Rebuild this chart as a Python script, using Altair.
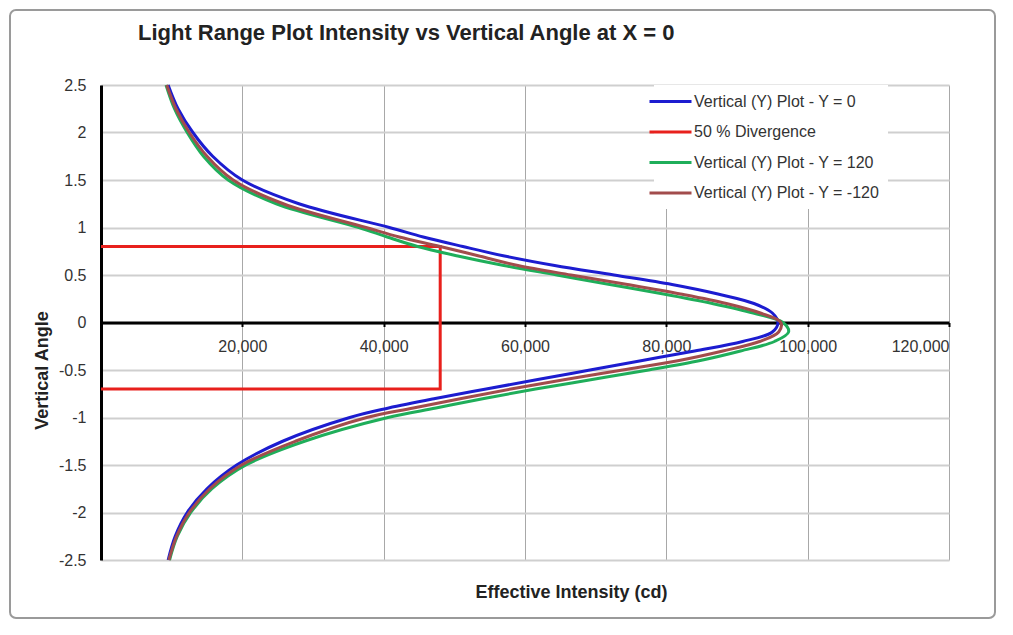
import altair as alt
import pandas as pd

# ---- data ----
angles = [2.5, 2.25, 2.0, 1.75, 1.5, 1.25, 1.0, 0.9, 0.8, 0.7, 0.6, 0.5, 0.4, 0.3, 0.2, 0.1, 0.0,
          -0.1, -0.2, -0.3, -0.4, -0.5, -0.6, -0.7, -0.8, -0.9, -1.0, -1.25, -1.5, -1.75, -2.0, -2.25, -2.5]

blue_y0 = [9500, 10900, 13000, 15800, 20000, 28000, 40800, 45600, 51200, 57100, 64200, 72600, 80800, 87300, 92400, 95000, 95800,
           95000, 90800, 84000, 76600, 69200, 61800, 54500, 47300, 40700, 35200, 25700, 19200, 15000, 12200, 10500, 9500]

green_y120 = [9200, 10400, 12200, 14500, 18000, 24800, 36500, 40500, 44800, 50500, 57000, 64500, 72000, 79600, 86500, 92300, 96500,
              97300, 95300, 90500, 84800, 77500, 69500, 61500, 54200, 47400, 40600, 28800, 20500, 15700, 12700, 10800, 9700]

brown_ym120 = [9300, 10600, 12500, 15000, 18700, 25800, 37500, 42200, 48000, 53500, 59000, 66500, 74500, 82000, 88500, 93300, 96200,
               95900, 93200, 88000, 81800, 73800, 65700, 58000, 51000, 44200, 37600, 27500, 19900, 15400, 12500, 10700, 9600]

div_x = [0, 48000, 48000, 0]
div_y = [0.8, 0.8, -0.7, -0.7]

series_names = ["Vertical (Y) Plot - Y = 0", "50 % Divergence",
                "Vertical (Y) Plot - Y = 120", "Vertical (Y) Plot - Y = -120"]
series_colors = ["#1c1cd0", "#e8201c", "#1fae5a", "#a24c4c"]

x_ticks = [0, 20000, 40000, 60000, 80000, 100000, 120000]
y_ticks = [2.5, 2.0, 1.5, 1.0, 0.5, 0.0, -0.5, -1.0, -1.5, -2.0, -2.5]

# ---- tables ----
rows = []
for name, vals in [(series_names[0], blue_y0), (series_names[2], green_y120), (series_names[3], brown_ym120)]:
    for i, (a, v) in enumerate(zip(angles, vals)):
        rows.append({"series": name, "intensity": v, "angle": a, "idx": i})
curves = pd.DataFrame(rows)
div = pd.DataFrame({"series": series_names[1], "intensity": div_x, "angle": div_y, "idx": list(range(len(div_x)))})

W, H = 848, 475
FONT = "Liberation Sans"

color = alt.Color("series:N",
                  scale=alt.Scale(domain=series_names, range=series_colors),
                  legend=alt.Legend(title=None, orient="none", legendX=553, legendY=0,
                                    symbolType="M-3,0H3", symbolSize=196, symbolStrokeWidth=3,
                                    labelOffset=15, labelFontSize=16, labelFont=FONT, labelColor="#333",
                                    labelLimit=400, rowPadding=13.5, padding=8, fillColor="white"))

xenc = alt.X("intensity:Q",
             scale=alt.Scale(domain=[0, 120000], nice=False, zero=False),
             axis=alt.Axis(title="Effective Intensity (cd)", values=x_ticks,
                           labelExpr="datum.value == 0 ? '' : format(datum.value, ',')",
                           offset=-H / 2, domainColor="black", domainWidth=3,
                           tickColor="black", tickSize=4, tickWidth=2,
                           labelFont=FONT, labelFontSize=16, labelColor="#333", labelPadding=12,
                           gridColor="#a8a8a8", gridWidth=1,
                           titleFont=FONT, titleFontSize=18, titleFontWeight="bold", titleColor="#222",
                           titleX=470, titleY=270, titleBaseline="middle"))
yenc = alt.Y("angle:Q",
             scale=alt.Scale(domain=[-2.5, 2.5], nice=False, zero=False),
             axis=alt.Axis(title="Vertical Angle", values=y_ticks,
                           labelExpr="'' + datum.value",
                           domainColor="black", domainWidth=3, ticks=False,
                           labelFont=FONT, labelFontSize=16, labelColor="#333", labelPadding=15,
                           gridColor="#cfcfcf", gridWidth=2,
                           titleFont=FONT, titleFontSize=18, titleFontWeight="bold", titleColor="#222",
                           titleX=-59, titleY=285, titleBaseline="middle"))

frame = alt.Chart(pd.DataFrame({"k": [0]})).mark_rect(
    fillOpacity=0, stroke="#9a9a9a", strokeWidth=2, cornerRadius=6
).encode(x=alt.value(-91), x2=alt.value(894), y=alt.value(-75), y2=alt.value(533))

div_layer = alt.Chart(div).mark_line(strokeWidth=3).encode(
    x=xenc, y=yenc, color=color, order="idx:Q")

curve_layer = alt.Chart(curves).mark_line(strokeWidth=3, interpolate="catmull-rom").encode(
    x=xenc, y=yenc, color=color, order="idx:Q", detail="series:N")

chart = alt.layer(frame, div_layer, curve_layer).properties(
    width=W, height=H,
    title=alt.TitleParams("Light Range Plot Intensity vs Vertical Angle at X = 0",
                          anchor="start", frame="group", dx=37, offset=-36, font=FONT, fontSize=22,
                          fontWeight="bold", color="#222"),
    autosize=alt.AutoSizeParams(type="none"),
    padding={"left": 93, "top": 77, "right": 49, "bottom": 60},
    background="white",
).configure_view(strokeWidth=0)

chart.save("out.html", embed_options={"renderer": "svg", "actions": False})
